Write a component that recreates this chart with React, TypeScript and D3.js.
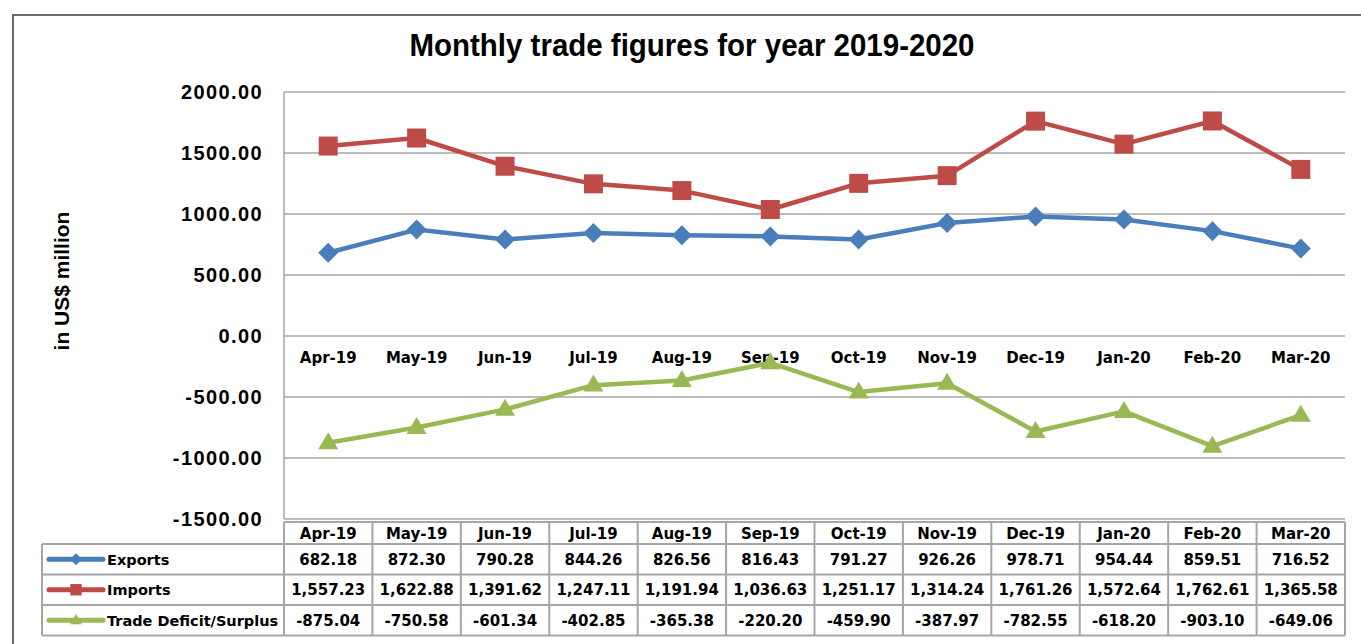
import * as d3 from "d3";

const months = ["Apr-19", "May-19", "Jun-19", "Jul-19", "Aug-19", "Sep-19", "Oct-19", "Nov-19", "Dec-19", "Jan-20", "Feb-20", "Mar-20"];
const exportsVals = [682.18, 872.3, 790.28, 844.26, 826.56, 816.43, 791.27, 926.26, 978.71, 954.44, 859.51, 716.52];
const importsVals = [1557.23, 1622.88, 1391.62, 1247.11, 1191.94, 1036.63, 1251.17, 1314.24, 1761.26, 1572.64, 1762.61, 1365.58];
const balanceVals = [-875.04, -750.58, -601.34, -402.85, -365.38, -220.2, -459.9, -387.97, -782.55, -618.2, -903.1, -649.06];
const yTicks = [2000, 1500, 1000, 500, 0, -500, -1000, -1500];

const series = [
  { name: "Exports", values: exportsVals, color: "#4a7ebb", marker: "diamond" },
  { name: "Imports", values: importsVals, color: "#be4b48", marker: "square" },
  { name: "Trade Deficit/Surplus", values: balanceVals, color: "#98b954", marker: "triangle" },
];

const W = 1361;
const H = 644;
const plotLeft = 284;
const plotRight = 1345;
const plotTop = 92;
const plotBottom = 519;
const tableTop = 522;
const headerH = 22;
const rowH = 30.5;
const legendLeft = 42;

const labelFont = "'DejaVu Sans', Verdana, sans-serif";
const axisFont = "'Liberation Sans', Arial, sans-serif";

function Marker({ kind, x, y, color }: { kind: string; x: number; y: number; color: string }) {
  if (kind === "diamond") {
    const r = 10;
    return <path d={`M${x},${y - r}L${x + r},${y}L${x},${y + r}L${x - r},${y}Z`} fill={color} />;
  }
  if (kind === "square") {
    const s = 19;
    return <rect x={x - s / 2} y={y - s / 2} width={s} height={s} fill={color} />;
  }
  const b = 20;
  const h = 17;
  return <path d={`M${x},${y - h * 0.62}L${x + b / 2},${y + h * 0.38}L${x - b / 2},${y + h * 0.38}Z`} fill={color} />;
}

function fmt(v: number) {
  return d3.format(",.2f")(v).replace("−", "-");
}

export default function App() {
  const x = d3.scaleBand<string>().domain(months).range([plotLeft, plotRight]);
  const y = d3.scaleLinear().domain([-1500, 2000]).range([plotBottom, plotTop]);
  const line = d3
    .line<number>()
    .x((_, i) => (x(months[i]) as number) + x.bandwidth() / 2)
    .y((d) => y(d));

  const tableBottom = tableTop + headerH + rowH * series.length;

  return (
    <svg width={W} height={H} style={{ position: "absolute", left: 0, top: 0, background: "#fff" }}>
      <rect x={13} y={15} width={W} height={H} fill="none" stroke="#6b6b6b" strokeWidth={2} />

      <text
        x={692}
        y={56}
        textAnchor="middle"
        fontFamily="'Liberation Sans Narrow', 'Liberation Sans', Arial, sans-serif"
        fontWeight="bold"
        fontSize={32}
        textLength={565}
        lengthAdjust="spacingAndGlyphs"
        fill="#000"
      >
        Monthly trade figures for year 2019-2020
      </text>

      {/* gridlines */}
      {yTicks.map((t) => (
        <line key={t} x1={plotLeft} x2={plotRight} y1={y(t)} y2={y(t)} stroke="#a6a6a6" strokeWidth={1.5} />
      ))}
      <line x1={plotLeft} x2={plotLeft} y1={plotTop} y2={plotBottom} stroke="#a6a6a6" strokeWidth={1.5} />

      {yTicks.map((t) => (
        <text
          key={t}
          x={263}
          y={y(t) + 7}
          textAnchor="end"
          fontFamily={axisFont}
          fontWeight="bold"
          fontSize={20}
          letterSpacing={1.4}
          fill="#000"
        >
          {t.toFixed(2)}
        </text>
      ))}

      <text
        transform={`translate(69,281) rotate(-90)`}
        textAnchor="middle"
        fontFamily={axisFont}
        fontWeight="bold"
        fontSize={21}
        fill="#000"
      >
        in US$ million
      </text>

      {/* category labels */}
      {months.map((m) => (
        <text
          key={m}
          x={(x(m) as number) + x.bandwidth() / 2}
          y={y(0) + 27}
          textAnchor="middle"
          fontFamily={labelFont}
          fontWeight="bold"
          fontSize={15}
          fill="#000"
        >
          {m}
        </text>
      ))}

      {/* lines + markers */}
      {series.map((s) => (
        <g key={s.name}>
          <path d={line(s.values) || ""} fill="none" stroke={s.color} strokeWidth={4.5} strokeLinejoin="round" />
          {s.values.map((v, i) => (
            <Marker key={i} kind={s.marker} x={(x(months[i]) as number) + x.bandwidth() / 2} y={y(v)} color={s.color} />
          ))}
        </g>
      ))}

      {/* data table */}
      <g stroke="#a6a6a6" strokeWidth={2} fill="none">
        <line x1={plotLeft} x2={plotRight} y1={tableTop} y2={tableTop} />
        {d3.range(series.length + 1).map((r) => (
          <line
            key={r}
            x1={legendLeft}
            x2={plotRight}
            y1={tableTop + headerH + r * rowH}
            y2={tableTop + headerH + r * rowH}
          />
        ))}
        <line x1={legendLeft} x2={legendLeft} y1={tableTop + headerH} y2={tableBottom} />
        {months.map((m) => (
          <line key={m} x1={x(m) as number} x2={x(m) as number} y1={tableTop} y2={tableBottom} />
        ))}
        <line x1={plotRight} x2={plotRight} y1={tableTop} y2={tableBottom} />
      </g>

      {months.map((m) => (
        <text
          key={m}
          x={(x(m) as number) + x.bandwidth() / 2}
          y={tableTop + headerH - 5}
          textAnchor="middle"
          fontFamily={labelFont}
          fontWeight="bold"
          fontSize={15}
          fill="#000"
        >
          {m}
        </text>
      ))}

      {series.map((s, r) => {
        const cy = tableTop + headerH + r * rowH + rowH / 2;
        return (
          <g key={s.name}>
            <line x1={49} x2={103} y1={cy} y2={cy} stroke={s.color} strokeWidth={5} strokeLinecap="round" />
            <g transform={`translate(76,${cy}) scale(0.6) translate(-76,${-cy})`}>
              <Marker kind={s.marker} x={76} y={cy} color={s.color} />
            </g>
            <text x={107} y={cy + 5.5} fontFamily={labelFont} fontWeight="bold" fontSize={14.5} fill="#000">
              {s.name}
            </text>
            {s.values.map((v, i) => (
              <text
                key={i}
                x={(x(months[i]) as number) + x.bandwidth() / 2}
                y={cy + 5.5}
                textAnchor="middle"
                fontFamily={labelFont}
                fontWeight="bold"
                fontSize={15}
                fill="#000"
              >
                {fmt(v)}
              </text>
            ))}
          </g>
        );
      })}
    </svg>
  );
}
